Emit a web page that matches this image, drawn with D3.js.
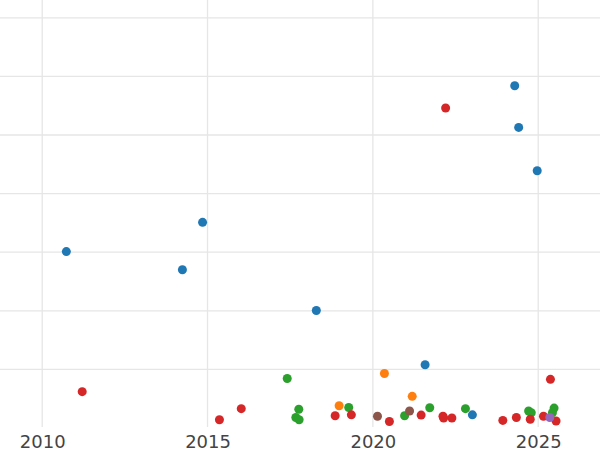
<!DOCTYPE html>
<html>
<head>
<meta charset="utf-8">
<script src="https://cdn.jsdelivr.net/npm/d3@7"></script>
<style>
  html, body { margin: 0; padding: 0; background: #fff; }
  svg { display: block; }
</style>
</head>
<body>
<svg id="chart" width="600" height="450"></svg>
<script>
// ---- data (x = decimal year, y = value) ----
const xTicks = [2010, 2015, 2020, 2025];
const yGrid = [1, 2, 3, 4, 5, 6, 7];

const greenX  = [2017.41, 2017.76, 2017.67, 2017.77, 2019.27, 2020.96, 2021.72, 2022.80, 2024.71, 2024.79, 2025.48, 2025.43];
const greenY  = [0.845, 0.32, 0.18, 0.14, 0.35, 0.21, 0.345, 0.33, 0.29, 0.26, 0.34, 0.26];

const blueX   = [2010.73, 2014.24, 2014.85, 2018.29, 2021.58, 2023.01, 2024.29, 2024.41, 2024.97];
const blueY   = [3.01, 2.70, 3.51, 2.005, 1.08, 0.225, 5.84, 5.13, 4.39];

const orangeX = [2018.98, 2020.35, 2021.19];
const orangeY = [0.38, 0.93, 0.54];

const redX    = [2011.21, 2015.36, 2016.02, 2022.20, 2018.86, 2019.35, 2020.50, 2021.46, 2022.12, 2022.14, 2022.39, 2023.93, 2024.34, 2024.76, 2025.16, 2025.37, 2025.54];
const redY    = [0.62, 0.14, 0.33, 5.46, 0.21, 0.225, 0.11, 0.22, 0.20, 0.17, 0.17, 0.13, 0.18, 0.15, 0.20, 0.83, 0.12];

const brownX  = [2020.14, 2021.11];
const brownY  = [0.20, 0.29];

const purpleX = [2025.35];
const purpleY = [0.18];

const seriesList = [
  { xs: greenX,  ys: greenY,  color: "#2ca02c" },
  { xs: blueX,   ys: blueY,   color: "#1f77b4" },
  { xs: orangeX, ys: orangeY, color: "#ff7f0e" },
  { xs: redX,    ys: redY,    color: "#d62728" },
  { xs: brownX,  ys: brownY,  color: "#8c564b" },
  { xs: purpleX, ys: purpleY, color: "#9467bd" }
];

// ---- layout ----
const W = 600, H = 450;
const plotBottom = 428;
const svg = d3.select("#chart");

const x = d3.scaleLinear().domain([2010, 2025]).range([42.2, 538.2]);
const y = d3.scaleLinear().domain([0, 7]).range([plotBottom, 17.8]);

// horizontal grid
svg.append("g").selectAll("line").data(yGrid).join("line")
  .attr("x1", 0).attr("x2", W)
  .attr("y1", d => y(d)).attr("y2", d => y(d))
  .attr("stroke", "#e6e6e6").attr("stroke-width", 1.3);

// vertical grid
svg.append("g").selectAll("line").data(xTicks).join("line")
  .attr("x1", d => x(d)).attr("x2", d => x(d))
  .attr("y1", 0).attr("y2", plotBottom - 1)
  .attr("stroke", "#e6e6e6").attr("stroke-width", 1.3);

// x axis labels via d3 axis
const xAxis = d3.axisBottom(x).tickValues(xTicks).tickFormat(d3.format("d")).tickSize(0).tickPadding(0);
const gx = svg.append("g").attr("transform", `translate(0,${plotBottom})`).call(xAxis);
gx.select(".domain").remove();
gx.selectAll("text")
  .attr("y", 19.5)
  .attr("dy", 0)
  .attr("fill", "#444")
  .style("font-family", "'DejaVu Sans', sans-serif")
  .style("font-size", "18px");

// points
seriesList.forEach(s => {
  const pts = s.xs.map((v, i) => [v, s.ys[i]]);
  svg.append("g").selectAll("circle").data(pts).join("circle")
    .attr("cx", d => x(d[0]))
    .attr("cy", d => y(d[1]))
    .attr("r", 4.5)
    .attr("fill", s.color);
});
</script>
</body>
</html>
